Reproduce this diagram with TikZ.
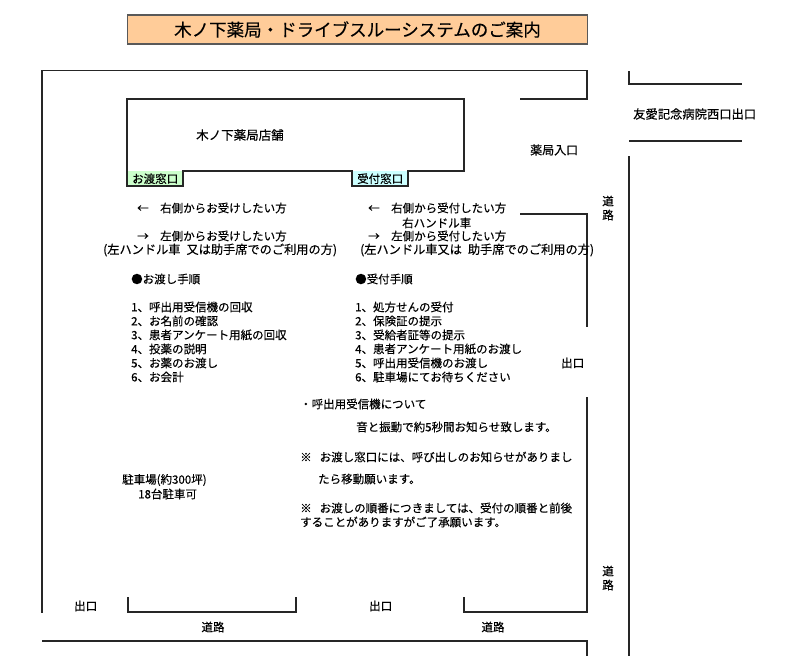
\documentclass[tikz,border=0pt]{standalone}
\usepackage{fontspec}
\setmainfont[FakeBold=0.3]{Noto Sans CJK JP}
\definecolor{titlefill}{HTML}{FFCC99}
\definecolor{passfill}{HTML}{CCFFCC}
\definecolor{recvfill}{HTML}{CCFFFF}
\newcommand*\bodysize{\fontsize{11.5}{14}\selectfont}
\newcommand*\notesize{\fontsize{12.2}{14}\selectfont}
\tikzset{
  wall/.style={draw=black!85,line width=1.4pt},
  txt/.style={anchor=west,inner sep=0pt,font=\bodysize},
  mid/.style={anchor=center,inner sep=0pt,font=\bodysize},
  windowbox/.style={
    anchor=north west,
    inner sep=0pt,
    minimum width=56pt,
    minimum height=15pt,
    font=\bodysize
  }
}
\begin{document}
\begin{tikzpicture}[x=1pt,y=-1pt]
    \useasboundingbox (0,0) rectangle (798,670);

    % Title bar.
    \node[draw=black!65,line width=1.5pt,fill=titlefill,minimum width=460pt,minimum height=29pt,
          inner sep=0pt,font=\fontsize{17.5}{20}\selectfont] (title) at (357.5,29.5)
          {木ノ下薬局・ドライブスルーシステムのご案内};

    % Draw the lot walls.
    \draw[wall] (520,99) -- (587,99) -- (587,70.5) -- (42,70.5) -- (42,612.5);
    \draw[wall] (520,214) -- (587,214) -- (587,327);
    \draw[wall] (587,397) -- (587,612) -- (464,612) -- (464,597);
    \draw[wall] (128,597) -- (128,612) -- (296,612) -- (296,597);

    % Draw the roads.
    \draw[wall] (42,641) -- (587,641) -- (587,656);
    \draw[wall] (629,71) -- (629,84) -- (742,84);
    \draw[wall] (629,141) -- (742,141);
    \draw[wall] (629,156) -- (629,656);

    % The shop with its two windows.
    \node[windowbox,fill=passfill] (passwin) at (127,171) {お渡窓口};
    \node[windowbox,fill=recvfill] (recvwin) at (352,171) {受付窓口};
    \draw[wall] (127,99) -- (464,99) -- (464,171) -- (408,171) -- (408,186) -- (352,186)
        -- (352,171) -- (183,171) -- (183,186) -- (127,186) -- cycle;
    \node[txt,font=\fontsize{12.5}{14}\selectfont] (shop) at (196,135) {木ノ下薬局店舗};

    % Left column.
    \node[txt] (passright) at (137,208) {←　右側からお受けしたい方};
    \node[txt] (passleft) at (137,236) {→　左側からお受けしたい方};
    \node[txt,font=\notesize] (passnote) at (103,250) {(左ハンドル車\hspace{6pt}又は助手席でのご利用の方)};
    \node[txt] (passhead) at (131,279) {●お渡し手順};
    \foreach \n/\ypos/\step in {1/307/呼出用受信機の回収,2/321/お名前の確認,3/335/患者アンケート用紙の回収,4/349/投薬の説明,5/363/お薬のお渡し,6/377/お会計}
        \node[txt] (pass\n) at (131,\ypos) {\n、\step};

    % Right column.
    \node[txt] (recvright) at (368,208) {←　右側から受付したい方};
    \node[txt] (recvhandle) at (402,223) {右ハンドル車};
    \node[txt] (recvleft) at (368,236) {→　左側から受付したい方};
    \node[txt,font=\notesize] (recvnote) at (360,250) {(左ハンドル車又は\hspace{6pt}助手席でのご利用の方)};
    \node[txt] (recvhead) at (355,279) {●受付手順};
    \foreach \n/\ypos/\step in {1/307/処方せんの受付,2/321/保険証の提示,3/335/受給者証等の提示,4/349/患者アンケート用紙のお渡し,5/363/呼出用受信機のお渡し,6/377/駐車場にてお待ちください}
        \node[txt] (recv\n) at (355,\ypos) {\n、\step};

    % Notes.
    \node[txt] (pager) at (300,404) {・呼出用受信機について};
    \node[txt] (pagertext) at (356,427) {音と振動で約5秒間お知らせ致します。};
    \node[txt] (notea) at (300,457) {※\hspace{8pt}お渡し窓口には、呼び出しのお知らせがありまし};
    \node[txt] (noteb) at (318,479) {たら移動願います。};
    \node[txt] (notec) at (300,508) {※\hspace{8pt}お渡しの順番につきましては、受付の順番と前後};
    \node[txt] (noted) at (300,522) {することがありますがご了承願います。};
    \node[txt] (parking) at (122,480) {駐車場(約300坪)};
    \node[txt] (parkcars) at (138,494) {18台駐車可};

    % Entrances, exits and roads.
    \node[txt,font=\fontsize{12}{14}\selectfont] (entrance) at (530,150) {薬局入口};
    \node[txt,font=\fontsize{12.3}{14}\selectfont] (hospital) at (633,114) {友愛記念病院西口出口};
    \node[txt] (exitright) at (561,363) {出口};
    \node[txt] (exita) at (74,606) {出口};
    \node[txt] (exitb) at (369,606) {出口};
    \node[mid] (roada) at (213,627) {道路};
    \node[mid] (roadb) at (493,627) {道路};
    \node[mid] (roadc) at (608,201) {道};
    \node[mid] (roadd) at (608,215) {路};
    \node[mid] (roade) at (608,571) {道};
    \node[mid] (roadf) at (608,585) {路};

\end{tikzpicture}
\end{document}
